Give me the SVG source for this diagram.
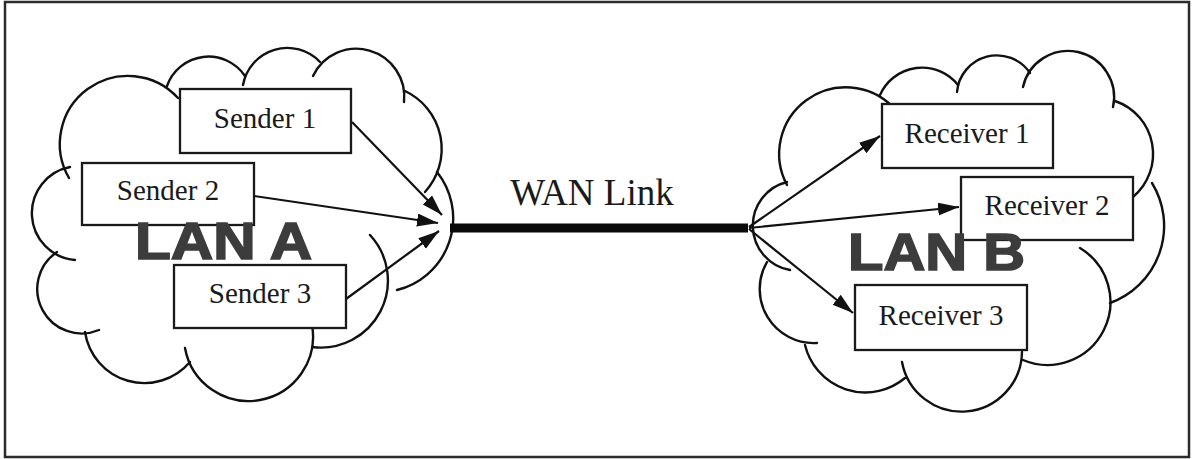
<svg xmlns="http://www.w3.org/2000/svg" width="1196" height="459" viewBox="0 0 1196 459">
  <style>
    .frame { fill: #ffffff; stroke: #2b2b2b; stroke-width: 2.5; }
    .cloud path { fill: none; stroke: #111111; stroke-width: 2.4; stroke-linecap: round; }
    .box { fill: #ffffff; stroke: #1a1a1a; stroke-width: 2.3; }
    .label { font-family: "Liberation Serif", "Times New Roman", serif; font-size: 29px; fill: #1a1a1a; text-anchor: middle; }
    .lan { font-family: "Liberation Sans", Arial, sans-serif; font-weight: bold; font-size: 52px; fill: #3c3c3c; stroke: #3c3c3c; stroke-width: 1.6; }
    .wan { font-family: "Liberation Serif", "Times New Roman", serif; font-size: 37px; fill: #1a1a1a; text-anchor: middle; }
    .arrow { fill: none; stroke: #111111; stroke-width: 2.2; marker-end: url(#head); }
    .link { stroke: #0a0a0a; stroke-width: 9; }
  </style>
  <defs>
    <marker id="head" markerUnits="userSpaceOnUse" markerWidth="24" markerHeight="16" refX="21" refY="6.5" orient="auto">
      <path d="M0,0 L21,6.5 L0,13 z" fill="#111111"/>
    </marker>
  </defs>

  <rect class="frame" x="5" y="2" width="1184" height="455"/>

  <!-- LAN A cloud -->
  <g id="lan-a-cloud" class="cloud">
    <path d="M75,260 A47,47 0 0 1 70,167"/>
    <path d="M69,178 A68,68 0 0 1 178,98"/>
    <path d="M167,86 A44,44 0 0 1 245,76"/>
    <path d="M243,85 A45,45 0 0 1 320,62"/>
    <path d="M313,76 A48,48 0 0 1 404,102"/>
    <path d="M405,91 A64,64 0 0 1 425,192"/>
    <path d="M437,172 A74,74 0 0 1 397,290"/>
    <path d="M370,235 A67,67 0 0 1 312,347"/>
    <path d="M312,325 A64.5,64.5 0 0 1 185,348"/>
    <path d="M190,362 A60,60 0 0 1 85,332"/>
    <path d="M99,330 A44.5,44.5 0 0 1 57,252"/>
  </g>

  <!-- LAN B cloud -->
  <g id="lan-b-cloud" class="cloud">
    <path d="M790,270 A45,45 0 0 1 787,182"/>
    <path d="M787,185 A66.5,66.5 0 0 1 893,107"/>
    <path d="M880,95 A46,46 0 0 1 958,85"/>
    <path d="M957,92 A40,40 0 0 1 1030,73"/>
    <path d="M1023,87 A46,46 0 0 1 1113,107"/>
    <path d="M1115,101 A56,56 0 0 1 1133,197"/>
    <path d="M1152,183 A82,82 0 0 1 1110,303"/>
    <path d="M1080,248 A63,63 0 0 1 1023,360"/>
    <path d="M1022,352 A60.5,60.5 0 0 1 902,362"/>
    <path d="M905,378 A62,62 0 0 1 805,345"/>
    <path d="M817,343 A54,54 0 0 1 767,262"/>
  </g>

  <!-- senders -->
  <g id="sender-1">
    <rect class="box" x="180" y="89" width="171" height="64"/>
    <text class="label" x="265" y="128">Sender 1</text>
  </g>
  <g id="sender-2">
    <rect class="box" x="82" y="163" width="172" height="62"/>
    <text class="label" x="168" y="200">Sender 2</text>
  </g>
  <g id="sender-3">
    <rect class="box" x="174" y="265" width="172" height="63"/>
    <text class="label" x="260" y="303">Sender 3</text>
  </g>

  <!-- receivers -->
  <g id="receiver-1">
    <rect class="box" x="882" y="104" width="171" height="64"/>
    <text class="label" x="967" y="143">Receiver 1</text>
  </g>
  <g id="receiver-2">
    <rect class="box" x="961" y="177" width="172" height="63"/>
    <text class="label" x="1047" y="215">Receiver 2</text>
  </g>
  <g id="receiver-3">
    <rect class="box" x="855" y="285" width="172" height="65"/>
    <text class="label" x="941" y="325">Receiver 3</text>
  </g>

  <!-- network names -->
  <g id="lan-a-label">
    <text class="lan" x="135" y="259" textLength="177" lengthAdjust="spacingAndGlyphs">LAN A</text>
  </g>
  <g id="lan-b-label">
    <text class="lan" x="848" y="270" textLength="177" lengthAdjust="spacingAndGlyphs">LAN B</text>
  </g>

  <!-- WAN link between the two LANs -->
  <g id="wan-link">
    <text class="wan" x="592" y="205">WAN Link</text>
  </g>

  <g id="connectors">
    <line class="link" x1="450" y1="228" x2="748" y2="228"/>
    <line class="arrow" x1="352" y1="122" x2="442" y2="215"/>
    <line class="arrow" x1="254" y1="196" x2="438" y2="223"/>
    <line class="arrow" x1="346" y1="299" x2="439" y2="231"/>
    <line class="arrow" x1="749" y1="227" x2="880" y2="136"/>
    <line class="arrow" x1="749" y1="228" x2="959" y2="207"/>
    <line class="arrow" x1="749" y1="229" x2="853" y2="313"/>
  </g>
</svg>
